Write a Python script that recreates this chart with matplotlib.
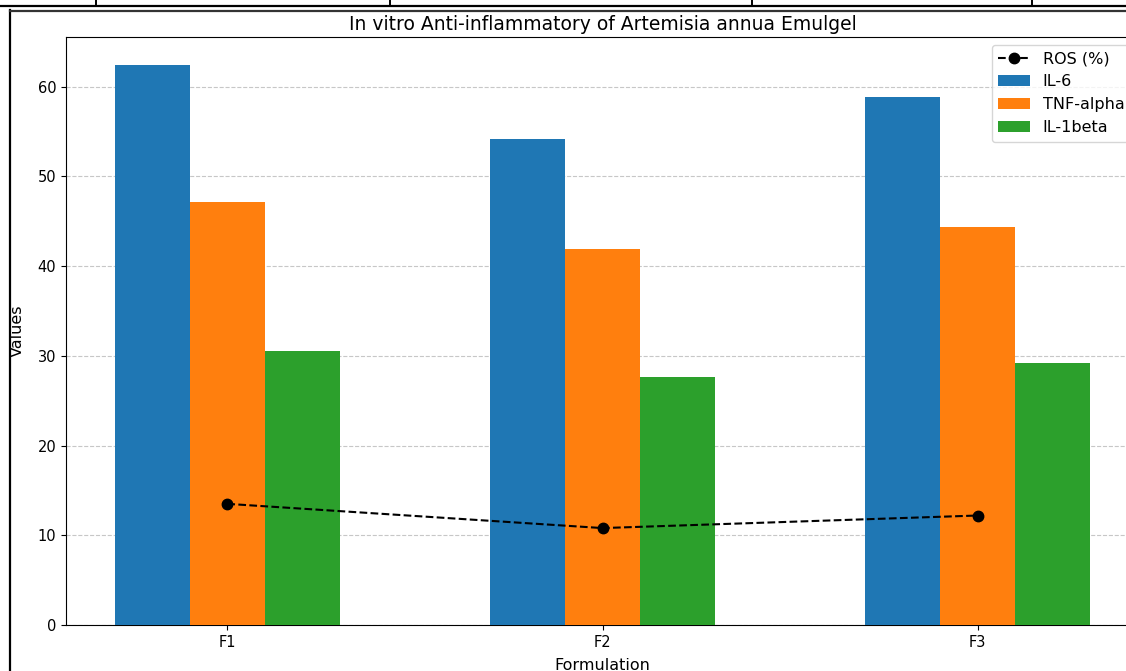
import matplotlib
matplotlib.use('Agg')
import matplotlib.pyplot as plt
from matplotlib.lines import Line2D
import numpy as np

formulations = ['F1', 'F2', 'F3']
il6 = [62.4, 54.2, 58.8]
tnf_alpha = [47.1, 41.9, 44.4]
il1beta = [30.5, 27.6, 29.2]
ros = [13.5, 10.8, 12.2]

W, H = 1126, 671
fig = plt.figure(figsize=(W / 100, H / 100), dpi=100)

# axes runs past the right edge, like the cropped screenshot
ax = fig.add_axes([66 / W, (H - 625) / H, (1139 - 66) / W, (625 - 37) / H])

x = np.arange(len(formulations))
width = 0.2
ax.plot(x, ros, 'k--o', markersize=7.5, label='ROS (%)', zorder=4)
ax.bar(x - width, il6, width, label='IL-6', zorder=3)
ax.bar(x, tnf_alpha, width, label='TNF-alpha', zorder=3)
ax.bar(x + width, il1beta, width, label='IL-1beta', zorder=3)

ax.set_xticks(x)
ax.set_xticklabels(formulations)
ax.tick_params(labelsize=10.5)
ax.set_xlabel('Formulation', fontsize=11.5, labelpad=6)
ax.set_ylabel('Values', fontsize=11.5, labelpad=9)
ax.set_title('In vitro Anti-inflammatory of Artemisia annua Emulgel', fontsize=13.5, pad=5)
ax.grid(axis='y', linestyle='--', alpha=0.7, zorder=0)
ax.legend(loc='upper right', fontsize=11.5)

# table / frame lines from the document the chart was pasted in
def fline(x0, y0, x1, y1, **kw):
    fig.add_artist(Line2D([x0 / W, x1 / W], [1 - y0 / H, 1 - y1 / H],
                          transform=fig.transFigure, **kw))

fline(0, 6, W, 6, color='black', lw=1.6)
for xv in [96, 390, 752, 1032]:
    fline(xv, 0, xv, 6, color='black', lw=1.4)
fline(10, 10, 10, H, color='black', lw=1.6)
fline(10, 10.5, W, 10.5, color='#333333', lw=1.6)

fig.savefig('out.png', dpi=100)
